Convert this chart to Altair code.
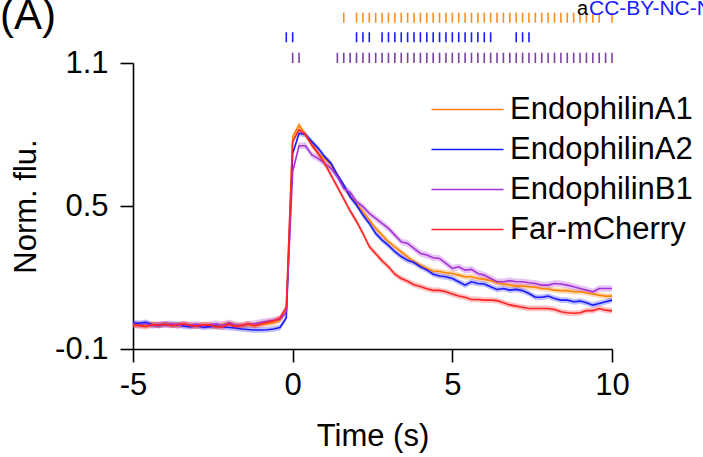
import altair as alt
import pandas as pd

# ---------------- data ----------------
SERIES = ["EndophilinA1", "EndophilinA2", "EndophilinB1", "Far-mCherry"]
COLORS = ["#FF8000", "#1A1AFF", "#A534D6", "#FF2424"]

# sample times: -5.0 ... 10.0 s every 0.2 s
TIMES = [round(-5.0 + 0.2 * i, 1) for i in range(76)]

a1_vals = [0.000, 0.003, -0.002, 0.004, 0.000, 0.006, 0.002, -0.002, 0.004, 0.000,
           -0.004, 0.002, -0.002, -0.006, 0.004, 0.008, 0.000, -0.004, 0.002, -0.002,
           0.004, 0.006, 0.010, 0.020, 0.060,
           0.79, 0.84, 0.80, 0.756, 0.72, 0.70, 0.672, 0.63, 0.581, 0.539,
           0.511, 0.476, 0.441, 0.406, 0.378, 0.35, 0.329, 0.308, 0.287, 0.266,
           0.252, 0.238, 0.227, 0.225, 0.22, 0.217, 0.21, 0.203, 0.203, 0.196,
           0.192, 0.187, 0.178, 0.173, 0.168, 0.164, 0.164, 0.161, 0.159, 0.154,
           0.152, 0.147, 0.145, 0.145, 0.14, 0.14, 0.136, 0.131, 0.126, 0.122, 0.122]

a2_vals = [0.010, 0.008, 0.012, 0.002, -0.002, 0.004, 0.000, 0.003, -0.004, -0.006,
           -0.002, -0.008, -0.006, -0.004, -0.008, -0.010, -0.012, -0.016, -0.018, -0.020,
           -0.020, -0.019, -0.016, -0.010, 0.030,
           0.72, 0.805, 0.80, 0.77, 0.742, 0.707, 0.679, 0.63, 0.588, 0.539,
           0.504, 0.462, 0.427, 0.385, 0.357, 0.335, 0.308, 0.288, 0.272, 0.263,
           0.245, 0.232, 0.214, 0.206, 0.203, 0.196, 0.182, 0.168, 0.182, 0.175,
           0.173, 0.161, 0.15, 0.154, 0.147, 0.15, 0.145, 0.133, 0.117, 0.117,
           0.122, 0.112, 0.105, 0.105, 0.098, 0.101, 0.094, 0.084, 0.091, 0.098, 0.105]

b1_vals = [0.004, 0.000, 0.006, -0.002, 0.004, 0.002, 0.006, -0.002, 0.004, 0.000,
           0.004, -0.004, 0.002, 0.006, 0.000, 0.010, 0.002, -0.002, 0.004, 0.006,
           0.012, 0.016, 0.020, 0.025, 0.055,
           0.644, 0.753, 0.753, 0.714, 0.70, 0.679, 0.658, 0.623, 0.574, 0.557,
           0.518, 0.497, 0.469, 0.448, 0.427, 0.406, 0.378, 0.35, 0.343, 0.322,
           0.301, 0.294, 0.283, 0.28, 0.259, 0.238, 0.245, 0.231, 0.234, 0.217,
           0.21, 0.196, 0.182, 0.182, 0.187, 0.182, 0.182, 0.178, 0.175, 0.168,
           0.168, 0.175, 0.173, 0.168, 0.161, 0.154, 0.147, 0.14, 0.154, 0.154, 0.154]

fm_vals = [0.002, -0.002, -0.006, 0.002, 0.000, 0.004, -0.002, 0.002, 0.006, -0.002,
           -0.004, 0.002, 0.000, -0.006, -0.008, 0.004, -0.006, 0.000, 0.006, -0.002,
           0.004, 0.012, 0.018, 0.030, 0.075,
           0.77, 0.82, 0.80, 0.756, 0.721, 0.679, 0.63, 0.58, 0.53, 0.48,
           0.435, 0.385, 0.33, 0.30, 0.27, 0.245, 0.214, 0.196, 0.184, 0.17,
           0.162, 0.153, 0.146, 0.146, 0.14, 0.131, 0.122, 0.117, 0.108, 0.108,
           0.105, 0.105, 0.103, 0.094, 0.085, 0.08, 0.075, 0.07, 0.07, 0.07,
           0.07, 0.066, 0.056, 0.052, 0.05, 0.052, 0.061, 0.061, 0.07, 0.063, 0.06]

# half-width of the shaded error band (SEM)
SEM = {"EndophilinA1": 0.012, "EndophilinA2": 0.012, "EndophilinB1": 0.014, "Far-mCherry": 0.012}

# significance tick times (top of the figure)
sig_a1 = [1.6] + [round(2.0 + 0.2 * i, 1) for i in range(39)] + [10.0]
sig_a2 = [-0.2, 0.0, 2.0, 2.2, 2.4] + [round(2.8 + 0.2 * i, 1) for i in range(18)] + [7.0, 7.2, 7.4]
sig_b1 = [0.0, 0.2] + [round(1.4 + 0.2 * i, 1) for i in range(44)]

SIG_COLORS = {"EndophilinA1": "#FF8C1A", "EndophilinA2": "#1A1AFF", "EndophilinB1": "#7B3FA6"}
SIG_ROWS = {"EndophilinA1": (1.269, 1.311), "EndophilinA2": (1.187, 1.229), "EndophilinB1": (1.100, 1.143)}

# ---------------- tables ----------------
rows = []
for name, vals in zip(SERIES, [a1_vals, a2_vals, b1_vals, fm_vals]):
    for t, v in zip(TIMES, vals):
        rows.append({"series": name, "t": t, "v": v,
                     "lo": v - SEM[name], "hi": v + SEM[name]})
df = pd.DataFrame(rows)

sig_rows = []
for name, ts in zip(["EndophilinA1", "EndophilinA2", "EndophilinB1"], [sig_a1, sig_a2, sig_b1]):
    lo, hi = SIG_ROWS[name]
    for t in ts:
        sig_rows.append({"series": name, "t": t, "y0": lo, "y1": hi})
sig_df = pd.DataFrame(sig_rows)

FONT = "Liberation Sans"
FS = 31
xscale = alt.Scale(domain=[-5, 10], nice=False, zero=False)
yscale = alt.Scale(domain=[-0.1, 1.1], nice=False, zero=False)
cscale = alt.Scale(domain=SERIES, range=COLORS)

x_axis = alt.Axis(values=[-5, 0, 5, 10], title="Time (s)", grid=False,
                  labelExpr="datum.value < 0 ? '-' + format(-datum.value, 'd') : format(datum.value, 'd')",
                  tickSize=13, labelPadding=8, titlePadding=21, labelFlush=False)
y_axis = alt.Axis(values=[-0.1, 0.5, 1.1], title="Norm. flu.", grid=False,
                  labelExpr="datum.value < 0 ? '-' + format(-datum.value, '.1f') : format(datum.value, '.1f')",
                  tickSize=13, labelPadding=12, titlePadding=12, labelFlush=False)

band = alt.Chart(df).mark_area(opacity=0.28).encode(
    x=alt.X("t:Q", scale=xscale, axis=x_axis),
    y=alt.Y("lo:Q", scale=yscale, axis=y_axis),
    y2="hi:Q",
    color=alt.Color("series:N", scale=cscale, legend=None),
    detail="series:N",
)

lines = alt.Chart(df).mark_line(strokeWidth=1.6).encode(
    x=alt.X("t:Q", scale=xscale),
    y=alt.Y("v:Q", scale=yscale),
    color=alt.Color("series:N", scale=cscale, sort=SERIES,
                    legend=alt.Legend(title=None, orient="none", legendX=343, legendY=31,
                                      symbolType="M-5,0H1", symbolSize=576,
                                      symbolStrokeWidth=1.6, labelFontSize=FS,
                                      labelFont=FONT, labelOffset=3, rowPadding=8,
                                      labelLimit=400, labelColor="black")),
    order="series:N",
)

sig = alt.Chart(sig_df).mark_rule(strokeWidth=1.6).encode(
    x=alt.X("t:Q", scale=xscale),
    y=alt.Y("y0:Q", scale=yscale),
    y2="y1:Q",
    color=alt.Color("series:N", scale=alt.Scale(domain=list(SIG_COLORS.keys()),
                                                range=list(SIG_COLORS.values())), legend=None),
)

label_a = alt.Chart(pd.DataFrame({"txt": ["(A)"]})).mark_text(
    fontSize=42, font=FONT, align="left", baseline="alphabetic", color="black"
).encode(text="txt:N", x=alt.value(-133), y=alt.value(-34))

lic_a = alt.Chart(pd.DataFrame({"txt": ["a"]})).mark_text(
    fontSize=20, font=FONT, align="left", baseline="alphabetic", color="black"
).encode(text="txt:N", x=alt.value(444), y=alt.value(-48))

lic = alt.Chart(pd.DataFrame({"txt": ["CC-BY-NC-ND 4.0 International license"]})).mark_text(
    fontSize=21, font=FONT, align="left", baseline="alphabetic", color="#1A1AFF"
).encode(text="txt:N", x=alt.value(456), y=alt.value(-48))

chart = alt.layer(band, lines, sig, label_a, lic_a, lic).resolve_scale(color="independent").properties(
    width=479, height=286,
    autosize=alt.AutoSizeParams(type="none"),
    padding={"left": 133, "top": 63, "right": 91, "bottom": 108},
).configure_view(stroke=None).configure_axis(
    domainColor="black", domainWidth=1.6, tickColor="black", tickWidth=1.6,
    labelFont=FONT, titleFont=FONT, labelFontSize=FS, titleFontSize=FS,
    labelColor="black", titleColor="black", titleFontWeight="normal",
)

chart.save("out.html", embed_options={"renderer": "svg", "actions": False})
